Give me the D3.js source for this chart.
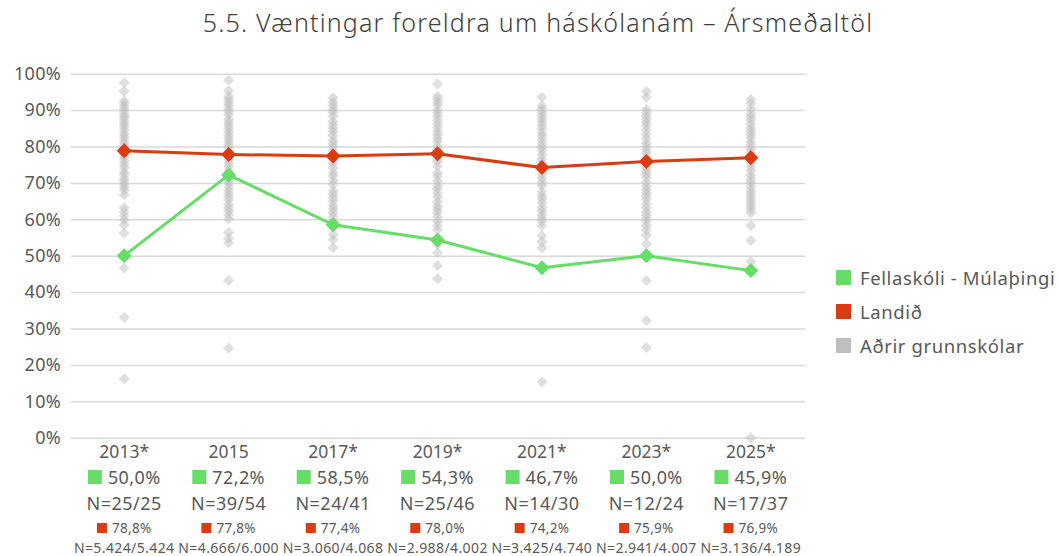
<!DOCTYPE html>
<html>
<head>
<meta charset="utf-8">
<script src="https://cdn.jsdelivr.net/npm/d3@7"></script>
<style>
  html, body { margin: 0; padding: 0; background: #fff; }
  svg { display: block; font-family: "Noto Sans", Lato, sans-serif; }
</style>
</head>
<body>
<svg id="chart" width="1058" height="556"></svg>
<script>
// Survey years (x categories)
const years = ["2013*", "2015", "2017*", "2019*", "2021*", "2023*", "2025*"];

// Yearly averages, percent
const fellaskoli = [50.0, 72.2, 58.5, 54.3, 46.7, 50.0, 45.9];
const landid = [78.8, 77.8, 77.4, 78.0, 74.2, 75.9, 76.9];

// Respondent counts shown under each year
const nSchool = ["N=25/25", "N=39/54", "N=24/41", "N=25/46", "N=14/30", "N=12/24", "N=17/37"];
const nNational = ["N=5.424/5.424", "N=4.666/6.000", "N=3.060/4.068", "N=2.988/4.002", "N=3.425/4.740", "N=2.941/4.007", "N=3.136/4.189"];

// Other schools' averages, one list per year
const other2013 = [97.5, 95.2, 92.6, 91.8, 91, 90.3, 89.5, 88.6, 87.9, 87, 86.2, 85.4, 84.5, 83.6, 82.8, 82, 81, 80.2, 79.4, 77.8, 76.9, 76, 75.1, 74.2, 73, 72.3, 71.3, 70.5, 69.6, 68.8, 67.9, 66.7, 63.2, 62.1, 61, 59.8, 58.5, 56.2, 46.6, 33, 16.2];
const other2015 = [98.2, 95.3, 93.8, 92.9, 92.1, 91.3, 90.4, 89.6, 88.7, 87.5, 86.6, 85.8, 84.9, 84, 83.1, 82.3, 81.4, 80.5, 79.7, 78.6, 77.2, 76.4, 75.5, 74.6, 73.4, 72.5, 71.7, 70.8, 69.9, 68.9, 68, 67.1, 66.2, 65.3, 64.1, 63.1, 62.2, 61.2, 60.1, 56.4, 54.7, 53.5, 43.2, 24.6];
const other2017 = [93.4, 92.1, 91.2, 90.3, 89.4, 88.3, 86.9, 86, 85.1, 84.2, 83.1, 81.7, 80.8, 79.9, 78.9, 76.3, 75.4, 74.1, 72.8, 71.9, 70.6, 69.5, 67.8, 66.9, 66, 65, 63.8, 62.9, 61.9, 60.7, 59.4, 58.1, 55.8, 54.4, 52.2];
const other2019 = [97.2, 93.8, 93, 92.1, 91.3, 90.1, 89.2, 88.3, 87.2, 86.1, 85.2, 84.1, 83.2, 82.3, 81.4, 80.1, 79.2, 76.8, 75.9, 74.6, 72.7, 71.8, 70.5, 69.3, 68.4, 67.2, 66.1, 64.8, 63.6, 62.7, 61.8, 60.6, 59.4, 58.3, 57.1, 53, 50.8, 47.3, 43.7];
const other2021 = [93.5, 91.2, 90.3, 89.4, 88.5, 87.6, 86.7, 85.8, 84.9, 83.8, 82.9, 81.8, 80.7, 79.8, 78.9, 77.7, 76.6, 75.6, 74.7, 73.5, 72.4, 71.3, 70.2, 69.3, 67.6, 66.5, 65.6, 64.5, 63.3, 62.3, 61.2, 60.3, 59.4, 58.2, 55.5, 53.8, 52.1, 15.3];
const other2023 = [95.1, 93.5, 90.2, 89.3, 88.4, 87.5, 86.6, 85.7, 84.5, 83.3, 82.1, 80.9, 80, 79.1, 78.2, 77, 75.3, 74.1, 73.2, 72.3, 71.4, 70.2, 69.1, 68.2, 67.3, 66.4, 65.5, 64.3, 63.2, 62.1, 61.2, 60.3, 59.4, 58.2, 57, 55.6, 53.2, 43.2, 32.2, 24.8];
const other2025 = [92.9, 91.8, 90.3, 89.1, 88.2, 87.3, 86.2, 85.1, 84.2, 83.3, 82.4, 81.3, 80.4, 79.3, 78.4, 77.5, 75.6, 74.5, 73.4, 72.2, 71.1, 70.2, 69.1, 68, 67.1, 66.2, 65.3, 64.4, 63.5, 62.6, 61.7, 58.3, 54.2, 48.4, 0];
const otherSchools = [other2013, other2015, other2017, other2019, other2021, other2023, other2025];

const yTicks = [0, 10, 20, 30, 40, 50, 60, 70, 80, 90, 100];
const legendLabels = ["Fellaskóli - Múlaþingi", "Landið", "Aðrir grunnskólar"];

const GREEN = "#66dd66", RED = "#dd3a12", GRAY = "#bfbfbf", TEXT = "#595959";
const isLocale = d3.formatLocale({ decimal: ",", thousands: ".", grouping: [3], currency: ["", " kr."] });
const pct1 = v => isLocale.format(".1f")(v) + "%";

const svg = d3.select("#chart");

const x = d3.scalePoint().domain(years).range([72, 803]).padding(0.5);
const y = d3.scaleLinear().domain([0, 100]).range([437.7, 73.7]);

const diamond = r => `M0,${-r}L${r},0L0,${r}L${-r},0Z`;

// Title
svg.append("text")
  .attr("x", 538).attr("y", 32)
  .attr("text-anchor", "middle")
  .attr("font-size", 25).attr("font-weight", 300).attr("fill", "#404040")
  .attr("letter-spacing", 1.2)
  .text("5.5. Væntingar foreldra um háskólanám – Ársmeðaltöl");

// Gridlines and y labels
const yAxis = d3.axisLeft(y).tickValues(yTicks).tickSize(-(805 - 71)).tickFormat(d => d + "%").tickPadding(10);
const gy = svg.append("g").attr("transform", "translate(71,0)").call(yAxis);
gy.select(".domain").remove();
gy.selectAll(".tick line").attr("stroke", "#d9d9d9").attr("stroke-width", 1.5);
gy.selectAll(".tick text").attr("font-size", 18).attr("fill", TEXT)
  .attr("font-family", "'Noto Sans', Lato, sans-serif").attr("letter-spacing", 0.3);

// Other schools as translucent diamonds
const others = svg.append("g");
otherSchools.forEach((vals, i) => {
  others.selectAll(null).data(vals).enter().append("path")
    .attr("d", diamond(5.5))
    .attr("transform", d => `translate(${x(years[i])},${y(d)})`)
    .attr("fill", GRAY).attr("fill-opacity", 0.5);
});

// Series lines with diamond markers
function drawSeries(vals, color) {
  const pts = vals.map((v, i) => [x(years[i]), y(v)]);
  svg.append("path")
    .attr("d", d3.line()(pts))
    .attr("fill", "none").attr("stroke", color).attr("stroke-width", 3)
    .attr("stroke-linejoin", "round");
  svg.append("g").selectAll("path").data(pts).enter().append("path")
    .attr("d", diamond(7.5))
    .attr("transform", d => `translate(${d[0]},${d[1]})`)
    .attr("fill", color);
}
drawSeries(landid, RED);
drawSeries(fellaskoli, GREEN);

// Category labels below the axis
const labels = svg.append("g").attr("fill", TEXT);
years.forEach((yr, i) => {
  const cx = x(yr);
  labels.append("text").attr("x", cx).attr("y", 458).attr("text-anchor", "middle")
    .attr("font-size", 17.5).text(yr);

  // green square + school value
  const g1 = labels.append("g");
  g1.append("rect").attr("width", 14).attr("height", 14).attr("y", 470).attr("fill", GREEN);
  const t1 = g1.append("text").attr("x", 20).attr("y", 483.5).attr("font-size", 18)
    .attr("letter-spacing", 0.4).text(pct1(fellaskoli[i]));
  const w1 = 20 + t1.node().getComputedTextLength();
  g1.attr("transform", `translate(${cx - w1 / 2},0)`);

  labels.append("text").attr("x", cx).attr("y", 510).attr("text-anchor", "middle")
    .attr("font-size", 18).attr("letter-spacing", 0.5).text(nSchool[i]);

  // red square + national value
  const g2 = labels.append("g");
  g2.append("rect").attr("width", 10).attr("height", 10).attr("y", 523).attr("fill", RED);
  const t2 = g2.append("text").attr("x", 15).attr("y", 533).attr("font-size", 13.5)
    .attr("letter-spacing", 0.3).text(pct1(landid[i]));
  const w2 = 15 + t2.node().getComputedTextLength();
  g2.attr("transform", `translate(${cx - w2 / 2},0)`);

  labels.append("text").attr("x", cx).attr("y", 552.5).attr("text-anchor", "middle")
    .attr("font-size", 14).attr("letter-spacing", 0.4).text(nNational[i]);
});

// Legend
const legendColors = [GREEN, RED, GRAY];
const legend = svg.append("g").attr("transform", "translate(836,270)");
legendLabels.forEach((lab, i) => {
  const row = legend.append("g").attr("transform", `translate(0,${i * 34})`);
  row.append("rect").attr("width", 15).attr("height", 15).attr("fill", legendColors[i]);
  row.append("text").attr("x", 24).attr("y", 14.5).attr("font-size", 18.5)
    .attr("letter-spacing", 0.6).attr("fill", TEXT).text(lab);
});
</script>
</body>
</html>
